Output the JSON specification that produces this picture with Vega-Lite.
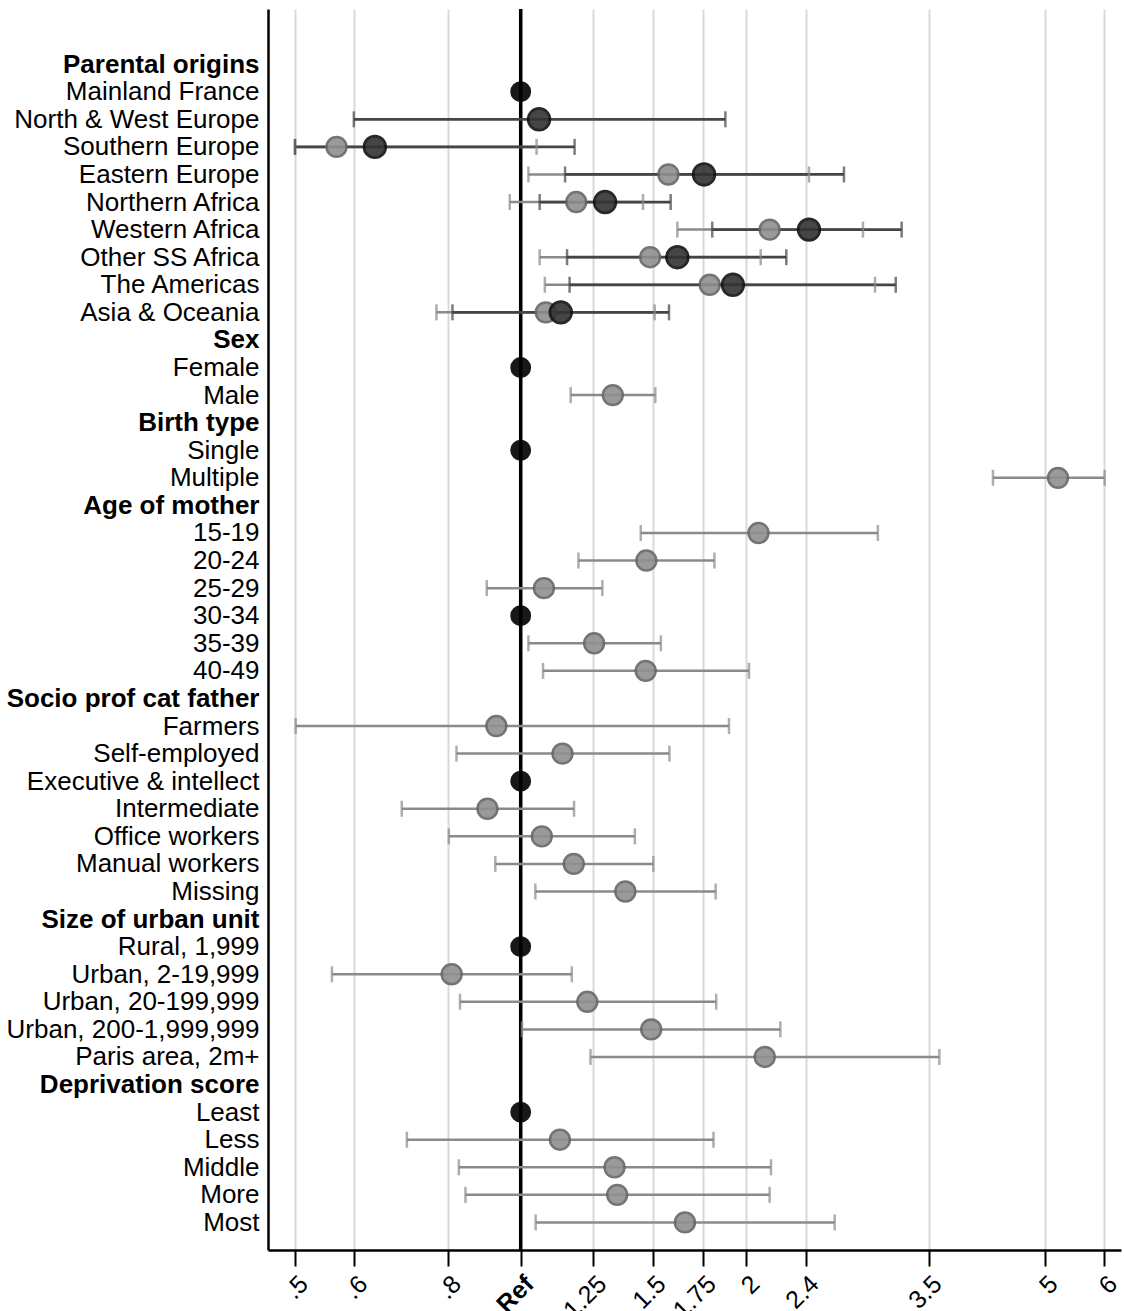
{
  "$schema": "https://vega.github.io/schema/vega-lite/v6.json",
  "width": 853,
  "height": 1241,
  "padding": {"left": 6, "top": 7, "right": 0, "bottom": 0},
  "background": "white",
  "config": {
    "font": "Liberation Sans",
    "view": {"stroke": null}
  },
  "data": {
    "values": [
      {"label": "Mainland France", "model": "r", "est": 1},
      {"label": "Female", "model": "r", "est": 1},
      {"label": "Single", "model": "r", "est": 1},
      {"label": "30-34", "model": "r", "est": 1},
      {"label": "Executive & intellect", "model": "r", "est": 1},
      {"label": "Rural, 1,999", "model": "r", "est": 1},
      {"label": "Least", "model": "r", "est": 1},
      {"label": "Southern Europe", "model": "g", "est": 0.568, "lo": 0.5, "hi": 1.05},
      {"label": "Eastern Europe", "model": "g", "est": 1.574, "lo": 1.024, "hi": 2.424},
      {"label": "Northern Africa", "model": "g", "est": 1.186, "lo": 0.967, "hi": 1.456},
      {"label": "Western Africa", "model": "g", "est": 2.148, "lo": 1.618, "hi": 2.861},
      {"label": "Other SS Africa", "model": "g", "est": 1.488, "lo": 1.06, "hi": 2.09},
      {"label": "The Americas", "model": "g", "est": 1.787, "lo": 1.077, "hi": 2.969},
      {"label": "Asia & Oceania", "model": "g", "est": 1.08, "lo": 0.772, "hi": 1.509},
      {"label": "Male", "model": "g", "est": 1.327, "lo": 1.166, "hi": 1.512},
      {"label": "Multiple", "model": "g", "est": 5.208, "lo": 4.265, "hi": 6.011},
      {"label": "15-19", "model": "g", "est": 2.076, "lo": 1.446, "hi": 2.995},
      {"label": "20-24", "model": "g", "est": 1.471, "lo": 1.194, "hi": 1.813},
      {"label": "25-29", "model": "g", "est": 1.074, "lo": 0.901, "hi": 1.285},
      {"label": "35-39", "model": "g", "est": 1.253, "lo": 1.024, "hi": 1.538},
      {"label": "40-49", "model": "g", "est": 1.468, "lo": 1.071, "hi": 2.016},
      {"label": "Farmers", "model": "g", "est": 0.928, "lo": 0.501, "hi": 1.896},
      {"label": "Self-employed", "model": "g", "est": 1.137, "lo": 0.821, "hi": 1.579},
      {"label": "Intermediate", "model": "g", "est": 0.903, "lo": 0.694, "hi": 1.178},
      {"label": "Office workers", "model": "g", "est": 1.067, "lo": 0.802, "hi": 1.42},
      {"label": "Manual workers", "model": "g", "est": 1.177, "lo": 0.925, "hi": 1.503},
      {"label": "Missing", "model": "g", "est": 1.379, "lo": 1.046, "hi": 1.82},
      {"label": "Urban, 2-19,999", "model": "g", "est": 0.809, "lo": 0.56, "hi": 1.17},
      {"label": "Urban, 20-199,999", "model": "g", "est": 1.227, "lo": 0.83, "hi": 1.823},
      {"label": "Urban, 200-1,999,999", "model": "g", "est": 1.493, "lo": 1.004, "hi": 2.22},
      {"label": "Paris area, 2m+", "model": "g", "est": 2.116, "lo": 1.239, "hi": 3.618},
      {"label": "Less", "model": "g", "est": 1.128, "lo": 0.705, "hi": 1.808},
      {"label": "Middle", "model": "g", "est": 1.334, "lo": 0.827, "hi": 2.157},
      {"label": "More", "model": "g", "est": 1.345, "lo": 0.844, "hi": 2.148},
      {"label": "Most", "model": "g", "est": 1.656, "lo": 1.047, "hi": 2.623},
      {"label": "North & West Europe", "model": "d", "est": 1.058, "lo": 0.599, "hi": 1.875},
      {"label": "Southern Europe", "model": "d", "est": 0.639, "lo": 0.5, "hi": 1.18},
      {"label": "Eastern Europe", "model": "d", "est": 1.756, "lo": 1.146, "hi": 2.699},
      {"label": "Northern Africa", "model": "d", "est": 1.296, "lo": 1.06, "hi": 1.585},
      {"label": "Western Africa", "model": "d", "est": 2.424, "lo": 1.801, "hi": 3.222},
      {"label": "Other SS Africa", "model": "d", "est": 1.618, "lo": 1.153, "hi": 2.261},
      {"label": "The Americas", "model": "d", "est": 1.919, "lo": 1.162, "hi": 3.164},
      {"label": "Asia & Oceania", "model": "d", "est": 1.131, "lo": 0.811, "hi": 1.577}
    ]
  },
  "encoding": {
    "y": {
      "field": "label",
      "type": "nominal",
      "sort": null,
      "scale": {
        "type": "point",
        "padding": 0,
        "domain": [" ", "  ", "Parental origins", "Mainland France", "North & West Europe", "Southern Europe", "Eastern Europe", "Northern Africa", "Western Africa", "Other SS Africa", "The Americas", "Asia & Oceania", "Sex", "Female", "Male", "Birth type", "Single", "Multiple", "Age of mother", "15-19", "20-24", "25-29", "30-34", "35-39", "40-49", "Socio prof cat father", "Farmers", "Self-employed", "Executive & intellect", "Intermediate", "Office workers", "Manual workers", "Missing", "Size of urban unit", "Rural, 1,999", "Urban, 2-19,999", "Urban, 20-199,999", "Urban, 200-1,999,999", "Paris area, 2m+", "Deprivation score", "Least", "Less", "Middle", "More", "Most", "   "]
      },
      "axis": {
        "title": null,
        "ticks": false,
        "grid": false,
        "domainColor": "#000000",
        "domainWidth": 2.5,
        "labelFontSize": {"condition": {"test": "trim(datum.value) == ''", "value": 1}, "value": 26},
        "labelColor": "#000000",
        "labelPadding": 9,
        "labelLimit": 0,
        "labelOverlap": false,
        "labelFontWeight": {
          "condition": {"test": "indexof(['Parental origins','Sex','Birth type','Age of mother','Socio prof cat father','Size of urban unit','Deprivation score'], datum.value) >= 0", "value": "bold"},
          "value": "normal"
        }
      }
    }
  },
  "layer": [
    {
      "mark": {"type": "rule", "color": "#000000", "strokeWidth": 3.5},
      "data": {"values": [{"ref": 1}]},
      "encoding": {
        "y": null,
        "x": {
          "field": "ref",
          "type": "quantitative",
          "scale": {"type": "log", "domain": [0.4602, 6.32], "nice": false, "zero": false},
          "axis": {
            "title": null,
            "values": [0.5, 0.6, 0.8, 1, 1.25, 1.5, 1.75, 2, 2.4, 3.5, 5, 6],
            "labelExpr": "datum.value == 1 ? 'Ref' : (datum.value < 1 ? slice(toString(datum.value), 1) : toString(datum.value))",
            "labelAngle": -45,
            "labelFontSize": 25,
            "labelColor": "#000000",
            "labelPadding": 5,
            "labelFontWeight": {"condition": {"test": "datum.value == 1", "value": "bold"}, "value": "normal"},
            "tickSize": 16,
            "tickWidth": 2,
            "tickColor": "#000000",
            "domainColor": "#000000",
            "domainWidth": 2.5,
            "grid": true,
            "gridColor": "#d9d9d9",
            "gridWidth": 2,
            "labelOverlap": false
          }
        }
      }
    },
    {
      "transform": [{"filter": "datum.lo != null"}],
      "mark": {"type": "rule"},
      "encoding": {
        "x": {"field": "lo", "type": "quantitative"},
        "x2": {"field": "hi"},
        "color": {"field": "model", "type": "nominal", "scale": {"domain": ["g", "d"], "range": ["#8a8a8a", "#454545"]}, "legend": null},
        "strokeWidth": {"field": "model", "type": "nominal", "scale": {"domain": ["g", "d"], "range": [2.5, 3]}, "legend": null}
      }
    },
    {
      "transform": [{"filter": "datum.lo != null"}],
      "mark": {"type": "tick", "size": 16, "thickness": 2.5},
      "encoding": {
        "x": {"field": "lo", "type": "quantitative"},
        "color": {"field": "model", "type": "nominal", "scale": {"domain": ["g", "d"], "range": ["#8a8a8a", "#454545"]}, "legend": null}
      }
    },
    {
      "transform": [{"filter": "datum.lo != null"}],
      "mark": {"type": "tick", "size": 16, "thickness": 2.5},
      "encoding": {
        "x": {"field": "hi", "type": "quantitative"},
        "color": {"field": "model", "type": "nominal", "scale": {"domain": ["g", "d"], "range": ["#8a8a8a", "#454545"]}, "legend": null}
      }
    },
    {
      "mark": {"type": "point", "shape": "circle", "filled": true, "opacity": 0.9},
      "encoding": {
        "x": {"field": "est", "type": "quantitative"},
        "fill": {"field": "model", "type": "nominal", "scale": {"domain": ["r", "g", "d"], "range": ["#000000", "#909090", "#333333"]}, "legend": null},
        "stroke": {"field": "model", "type": "nominal", "scale": {"domain": ["r", "g", "d"], "range": ["#000000", "#666666", "#111111"]}, "legend": null},
        "strokeWidth": {"field": "model", "type": "nominal", "scale": {"domain": ["r", "g", "d"], "range": [0, 3, 3]}, "legend": null},
        "size": {"field": "model", "type": "nominal", "scale": {"domain": ["r", "g", "d"], "range": [320, 470, 490]}, "legend": null}
      }
    }
  ]
}
